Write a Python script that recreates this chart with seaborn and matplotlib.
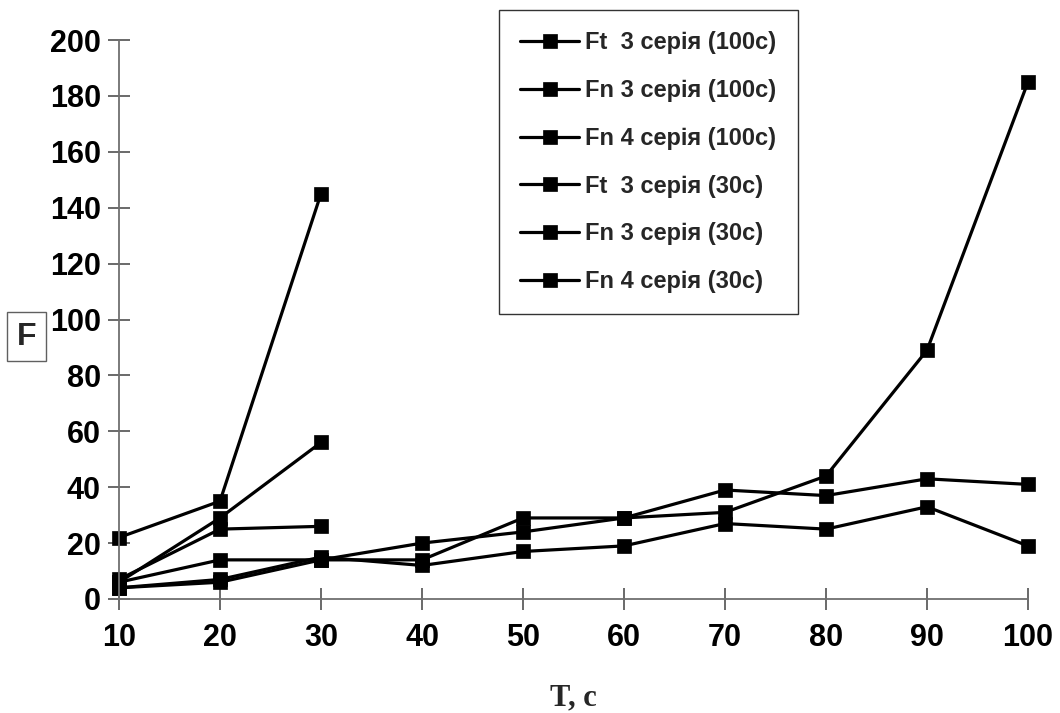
import matplotlib
matplotlib.use("Agg")
import matplotlib.pyplot as plt
import seaborn as sns
import pandas as pd

# ---- data ----
t_long = [10, 20, 30, 40, 50, 60, 70, 80, 90, 100]
t_short = [10, 20, 30]

ft3_100 = [4, 7, 15, 12, 17, 19, 27, 25, 33, 19]
fn3_100 = [6, 14, 14, 14, 29, 29, 39, 37, 43, 41]
fn4_100 = [4, 6, 14, 20, 24, 29, 31, 44, 89, 185]

ft3_30 = [22, 35, 145]
fn3_30 = [6, 29, 56]
fn4_30 = [7, 25, 26]

labels = ["Ft  3 серія (100c)", "Fn 3 серія (100c)", "Fn 4 серія (100c)",
          "Ft  3 серія (30c)", "Fn 3 серія (30c)", "Fn 4 серія (30c)"]
x_ticks = [10, 20, 30, 40, 50, 60, 70, 80, 90, 100]
y_ticks = [0, 20, 40, 60, 80, 100, 120, 140, 160, 180, 200]
x_label = "T, c"
y_label = "F"

series = [(t_long, ft3_100), (t_long, fn3_100), (t_long, fn4_100),
          (t_short, ft3_30), (t_short, fn3_30), (t_short, fn4_30)]

sns.set_style("ticks")
plt.rcParams["font.family"] = ["Liberation Sans", "DejaVu Sans"]

fig = plt.figure(figsize=(10.6, 7.13), dpi=100)
ax = fig.add_axes([119 / 1060, 1 - 599 / 713, (1028 - 119) / 1060, (599 - 40) / 713])

for (xs, ys), lab in zip(series, labels):
    df = pd.DataFrame({"T": xs, "F": ys})
    sns.lineplot(data=df, x="T", y="F", ax=ax, color="black", marker="s",
                 markersize=10, markeredgewidth=0.5, markeredgecolor="black",
                 linewidth=2.3, label=lab, sort=False, estimator=None,
                 clip_on=False)

ax.set_xlim(10, 100)
ax.set_ylim(0, 200)
ax.set_xticks(x_ticks)
ax.set_yticks(y_ticks)
ax.set_xticklabels([str(v) for v in x_ticks], fontweight="bold", fontsize=22)
ax.set_yticklabels([str(v) for v in y_ticks], fontweight="bold", fontsize=22)

for side in ["top", "right"]:
    ax.spines[side].set_visible(False)
for side in ["left", "bottom"]:
    ax.spines[side].set_color("#707070")
    ax.spines[side].set_linewidth(1.3)

ax.tick_params(axis="both", direction="inout", length=16, width=1.2,
               color="#505050", labelcolor="black", left=True, bottom=True)
ax.tick_params(axis="y", pad=5)
ax.tick_params(axis="x", pad=9)

ax.set_xlabel(x_label, family=["Liberation Serif", "DejaVu Serif"],
              fontweight="bold", fontsize=22, labelpad=22)
ax.set_ylabel(y_label, fontweight="bold", fontsize=23, rotation=0,
              va="center", ha="center",
              bbox=dict(boxstyle="square,pad=0.3", fc="white", ec="#606060", lw=1))
ax.yaxis.set_label_coords(-0.102, 0.469)

leg = ax.legend(loc="upper left", bbox_to_anchor=(499 / 1060, 1 - 10 / 713),
                bbox_transform=fig.transFigure, borderaxespad=0,
                frameon=True, fancybox=False, edgecolor="black",
                prop=dict(weight="bold", size=17), handlelength=2.5,
                handletextpad=0.25, borderpad=0.9, labelspacing=1.05)
leg.get_frame().set_linewidth(1.0)

fig.savefig("out.png", dpi=100, facecolor="white")
